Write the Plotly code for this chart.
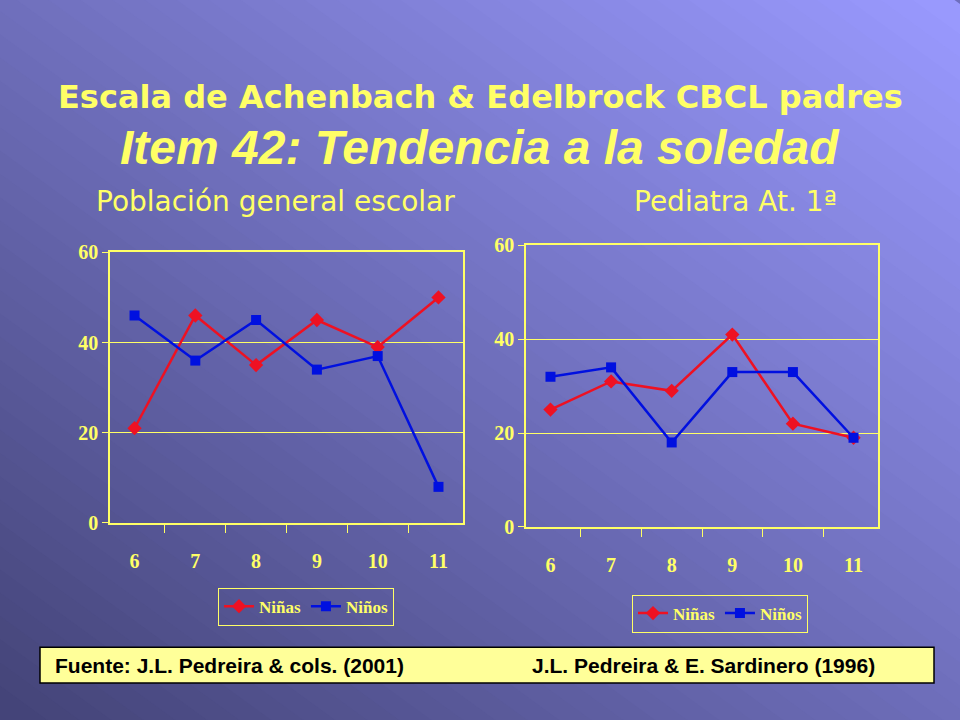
import plotly.graph_objects as go

edades = ["6", "7", "8", "9", "10", "11"]
# Población general escolar
ninas_escolar = [21, 46, 35, 45, 39, 50]
ninos_escolar = [46, 36, 45, 34, 37, 8]
# Pediatra At. 1ª
ninas_pediatra = [25, 31, 29, 41, 22, 19]
ninos_pediatra = [32, 34, 18, 33, 33, 19]
y_ticks = [0, 20, 40, 60]

YELLOW = "#ffff66"
RED = "#ee1122"
BLUE = "#0010e0"


def py(pix):
    # pixel row (from top, as measured on the slide) -> paper y, with a small
    # correction for how the page ends up on screen
    return 1 - (pix - 8.4) / 0.9745 / 720


fig = go.Figure()

fig.add_trace(go.Scatter(x=edades, y=ninas_escolar, name="Niñas", mode="lines+markers",
                         line=dict(color=RED, width=2.5), marker=dict(symbol="diamond", size=11, color=RED),
                         xaxis="x", yaxis="y", legend="legend"))
fig.add_trace(go.Scatter(x=edades, y=ninos_escolar, name="Niños", mode="lines+markers",
                         line=dict(color=BLUE, width=2.5), marker=dict(symbol="square", size=10, color=BLUE),
                         xaxis="x", yaxis="y", legend="legend"))
fig.add_trace(go.Scatter(x=edades, y=ninas_pediatra, name="Niñas", mode="lines+markers",
                         line=dict(color=RED, width=2.5), marker=dict(symbol="diamond", size=11, color=RED),
                         xaxis="x2", yaxis="y2", legend="legend2"))
fig.add_trace(go.Scatter(x=edades, y=ninos_pediatra, name="Niños", mode="lines+markers",
                         line=dict(color=BLUE, width=2.5), marker=dict(symbol="square", size=10, color=BLUE),
                         xaxis="x2", yaxis="y2", legend="legend2"))

tick_font = dict(family="Liberation Serif", size=20, color=YELLOW, weight="bold")
xax = dict(type="category", tickson="boundaries", ticks="outside", ticklen=8, tickcolor=YELLOW,
           showline=True, linecolor=YELLOW, linewidth=1.5, mirror=True, showgrid=False,
           tickfont=tick_font, zeroline=False, ticklabelstandoff=19)
yax = dict(range=[0, 60], tickvals=y_ticks, ticks="outside", ticklen=6, tickcolor=YELLOW,
           showline=True, linecolor=YELLOW, linewidth=1.5, mirror=True, showgrid=True,
           gridcolor=YELLOW, gridwidth=1, tickfont=tick_font, zeroline=False)

# diagonal background gradient built from bands
c0 = (0x44, 0x44, 0x78)
c1 = (0x9a, 0x9a, 0xff)
shapes = []
n = 60
for i in range(n):
    s0 = 2.0 * i / n - (0.02 if i == 0 else 0)
    s1 = 2.0 * (i + 1) / n + 0.01
    t = (i + 0.5) / n
    col = "rgb({},{},{})".format(*[int(a + (b - a) * t) for a, b in zip(c0, c1)])
    path = "M {} {} L {} {} L {} {} L {} {} Z".format(s0 + 1.5, -1.5, s1 + 1.5, -1.5,
                                                     s1 - 1.5, 1.5, s0 - 1.5, 1.5)
    shapes.append(dict(type="path", path=path, xref="paper", yref="paper",
                       fillcolor=col, line=dict(width=0), layer="below"))

# footer box
shapes.append(dict(type="rect", xref="paper", yref="paper", x0=40 / 960, x1=934 / 960,
                   y0=py(684), y1=py(648), fillcolor="#ffff99",
                   line=dict(color="black", width=1.5)))

annotations = [
    dict(text="Escala de Achenbach & Edelbrock CBCL padres", x=0.5, y=1 - 89 / 720,
         font=dict(family="DejaVu Sans", size=32, color=YELLOW, weight="bold")),
    dict(text="<i>Item 42: Tendencia a la soledad</i>", x=0.5, y=1 - 141 / 720,
         font=dict(family="Liberation Sans", size=48, color=YELLOW, weight="bold")),
    dict(text="Población general escolar", x=275 / 960, y=1 - 197 / 720,
         font=dict(family="DejaVu Sans", size=28, color=YELLOW)),
    dict(text="Pediatra At. 1ª", x=735 / 960, y=1 - 197 / 720,
         font=dict(family="DejaVu Sans", size=28, color=YELLOW)),
    dict(text="Fuente: J.L. Pedreira & cols. (2001)", x=53 / 960, y=py(666), xanchor="left",
         font=dict(family="Liberation Sans", size=21, color="black", weight="bold")),
    dict(text="J.L. Pedreira & E. Sardinero (1996)", x=530 / 960, y=py(666), xanchor="left",
         font=dict(family="Liberation Sans", size=21, color="black", weight="bold")),
]
for a in annotations:
    a.setdefault("xanchor", "center")
    a.update(xref="paper", yref="paper", yanchor="middle", showarrow=False)

legend_style = dict(orientation="h", bgcolor="rgba(0,0,0,0)", bordercolor=YELLOW, borderwidth=1,
                    font=dict(family="Liberation Serif", size=17, color=YELLOW, weight="bold"),
                    xanchor="left", yanchor="top", itemwidth=30, tracegroupgap=0)

fig.update_layout(
    width=960, height=720,
    margin=dict(l=0, r=0, t=0, b=0),
    paper_bgcolor="#6e6ebd", plot_bgcolor="rgba(0,0,0,0)",
    showlegend=True,
    xaxis=dict(xax, domain=[110 / 960, 463 / 960], anchor="y"),
    yaxis=dict(yax, domain=[py(523), py(251)], anchor="x"),
    xaxis2=dict(xax, domain=[526 / 960, 878 / 960], anchor="y2"),
    yaxis2=dict(yax, domain=[py(527), py(244)], anchor="x2"),
    legend=dict(legend_style, x=218 / 960, y=py(588)),
    legend2=dict(legend_style, x=632 / 960, y=py(595)),
    shapes=shapes,
    annotations=annotations,
)

# page body has a default margin; drop it so the figure sits at 0,0
fig.write_html("out.html", config={"displayModeBar": False},
               post_script="document.body.style.margin='0';document.body.style.overflow='hidden';")
